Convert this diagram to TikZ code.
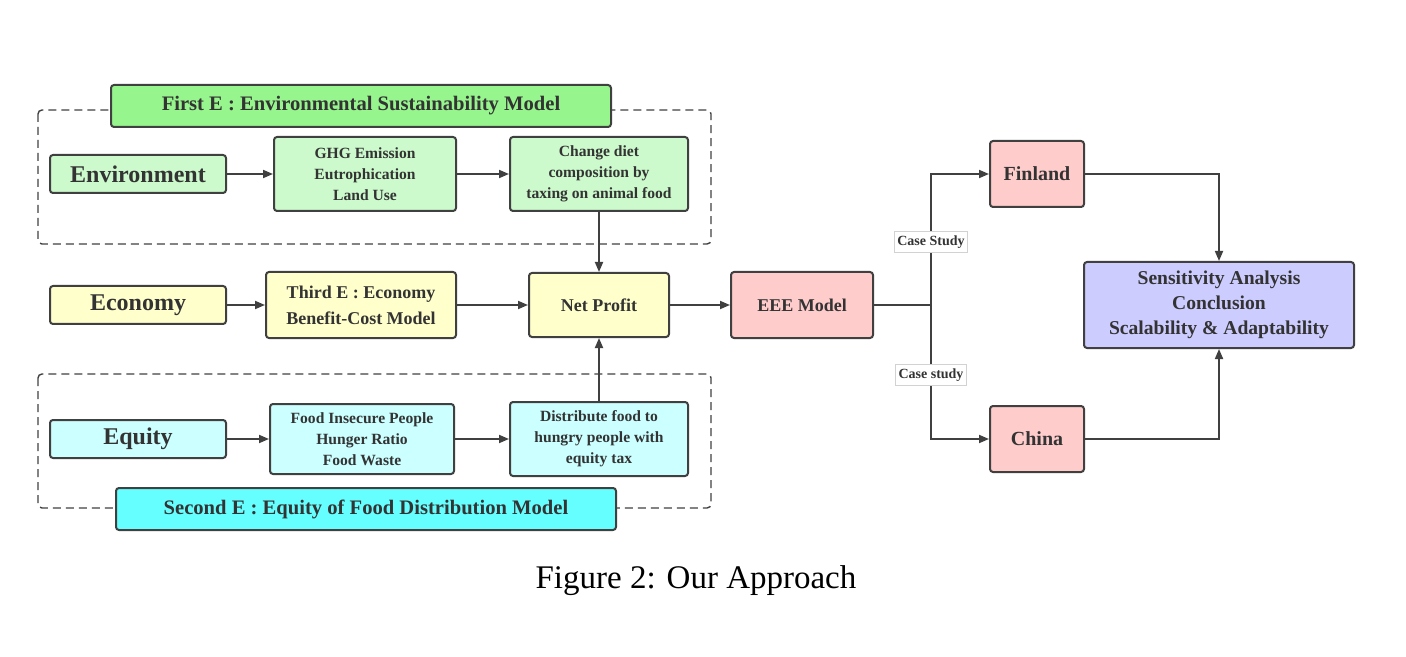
\documentclass[tikz,border=0pt]{standalone}
\usepackage{fontspec}
\setmainfont{Liberation Serif}
\usetikzlibrary{arrows.meta,positioning}

\definecolor{edgegray}{RGB}{64,64,64}
\definecolor{titlegreen}{RGB}{150,245,140}
\definecolor{lightgreen}{RGB}{204,250,204}
\definecolor{lightyellow}{RGB}{255,255,204}
\definecolor{lightpink}{RGB}{255,204,204}
\definecolor{lavender}{RGB}{204,204,255}
\definecolor{lightcyan}{RGB}{204,255,255}
\definecolor{titlecyan}{RGB}{102,255,255}

\tikzset{
  box/.style={draw=edgegray, line width=1pt, rounded corners=1.5pt, align=center, font=\bfseries, inner sep=2pt, text=black!80},
  bigtext/.style={font=\fontsize{12}{14}\selectfont\bfseries},
  midtext/.style={font=\fontsize{9}{13}\selectfont\bfseries},
  smalltext/.style={font=\fontsize{7.8}{10.5}\selectfont\bfseries},
  titletext/.style={font=\fontsize{10.3}{12}\selectfont\bfseries},
  link/.style={draw=edgegray, line width=0.9pt, -{Triangle[length=5pt,width=4pt]}},
  group/.style={draw=edgegray, dash pattern=on 4pt off 2.5pt, line width=0.7pt, rounded corners=2pt},
  tag/.style={fill=white, draw=gray!35, line width=0.3pt, font=\fontsize{7}{8}\selectfont\bfseries, inner xsep=1.5pt, inner ysep=2pt, text=black!80}
}

\begin{document}
\begin{tikzpicture}[x=0.5pt, y=-0.5pt]
\useasboundingbox (0,0) rectangle (1406,657);

% Dashed groups
\draw[group] (38,110) rectangle (711,244);
\draw[group] (38,374) rectangle (711,508);

% Group titles
\node[box, titletext, fill=titlegreen, minimum width=250pt, minimum height=21pt] (firstE) at (361,106) {First E : Environmental Sustainability Model};
\node[box, titletext, fill=titlecyan, minimum width=250pt, minimum height=21pt] (secondE) at (366,509) {Second E : Equity of Food Distribution Model};

% Environment row
\node[box, bigtext, fill=lightgreen, minimum width=88pt, minimum height=19pt] (env) at (138,174) {Environment};
\node[box, smalltext, fill=lightgreen, minimum width=91pt, minimum height=37pt] (ghg) at (365,174) {GHG Emission\\Eutrophication\\Land Use};
\node[box, smalltext, fill=lightgreen, minimum width=89pt, minimum height=37pt] (diet) at (599,174) {Change diet\\composition by\\taxing on animal food};

% Economy row
\node[box, bigtext, fill=lightyellow, minimum width=88pt, minimum height=19pt] (eco) at (138,305) {Economy};
\node[box, midtext, fill=lightyellow, minimum width=95pt, minimum height=33pt] (thirdE) at (361,305) {Third E : Economy\\Benefit-Cost Model};
\node[box, midtext, fill=lightyellow, minimum width=70pt, minimum height=32pt] (net) at (599,305) {Net Profit};

% Equity row
\node[box, bigtext, fill=lightcyan, minimum width=88pt, minimum height=19pt] (equ) at (138,439) {Equity};
\node[box, smalltext, fill=lightcyan, minimum width=92pt, minimum height=35pt] (food) at (362,439) {Food Insecure People\\Hunger Ratio\\Food Waste};
\node[box, smalltext, fill=lightcyan, minimum width=89pt, minimum height=37pt] (dist) at (599,439) {Distribute food to\\hungry people with\\equity tax};

% Case studies
\node[box, midtext, fill=lightpink, minimum width=71pt, minimum height=33pt] (eee) at (802,305) {EEE Model};
\node[box, font=\fontsize{10}{12}\selectfont\bfseries, fill=lightpink, minimum width=47pt, minimum height=33pt] (fin) at (1037,174) {Finland};
\node[box, font=\fontsize{10}{12}\selectfont\bfseries, fill=lightpink, minimum width=47pt, minimum height=33pt] (china) at (1037,439) {China};
\node[box, font=\fontsize{9.8}{12.5}\selectfont\bfseries, fill=lavender, minimum width=135pt, minimum height=43pt] (sens) at (1219,305) {Sensitivity Analysis\\Conclusion\\Scalability \& Adaptability};
\coordinate (split) at (931,305);

% Arrows
\draw[link] (env) -- (ghg);
\draw[link] (ghg) -- (diet);
\draw[link] (diet) -- (net);
\draw[link] (eco) -- (thirdE);
\draw[link] (thirdE) -- (net);
\draw[link] (dist) -- (net);
\draw[link] (equ) -- (food);
\draw[link] (food) -- (dist);
\draw[link] (net) -- (eee);
\draw[link] (eee.east) -- (split) |- (fin.west);
\draw[link] (split) |- (china.west);
\draw[link] (fin.east) -| (sens.north);
\draw[link] (china.east) -| (sens.south);

% Case study tags
\node[tag] (tagfin) at (931,242) {Case Study};
\node[tag] (tagchina) at (931,375) {Case study};

% Caption
\node[font=\fontsize{16.5}{18}\selectfont, text=black] (caption) at (696,581) {Figure 2: Our Approach};

\end{tikzpicture}
\end{document}
